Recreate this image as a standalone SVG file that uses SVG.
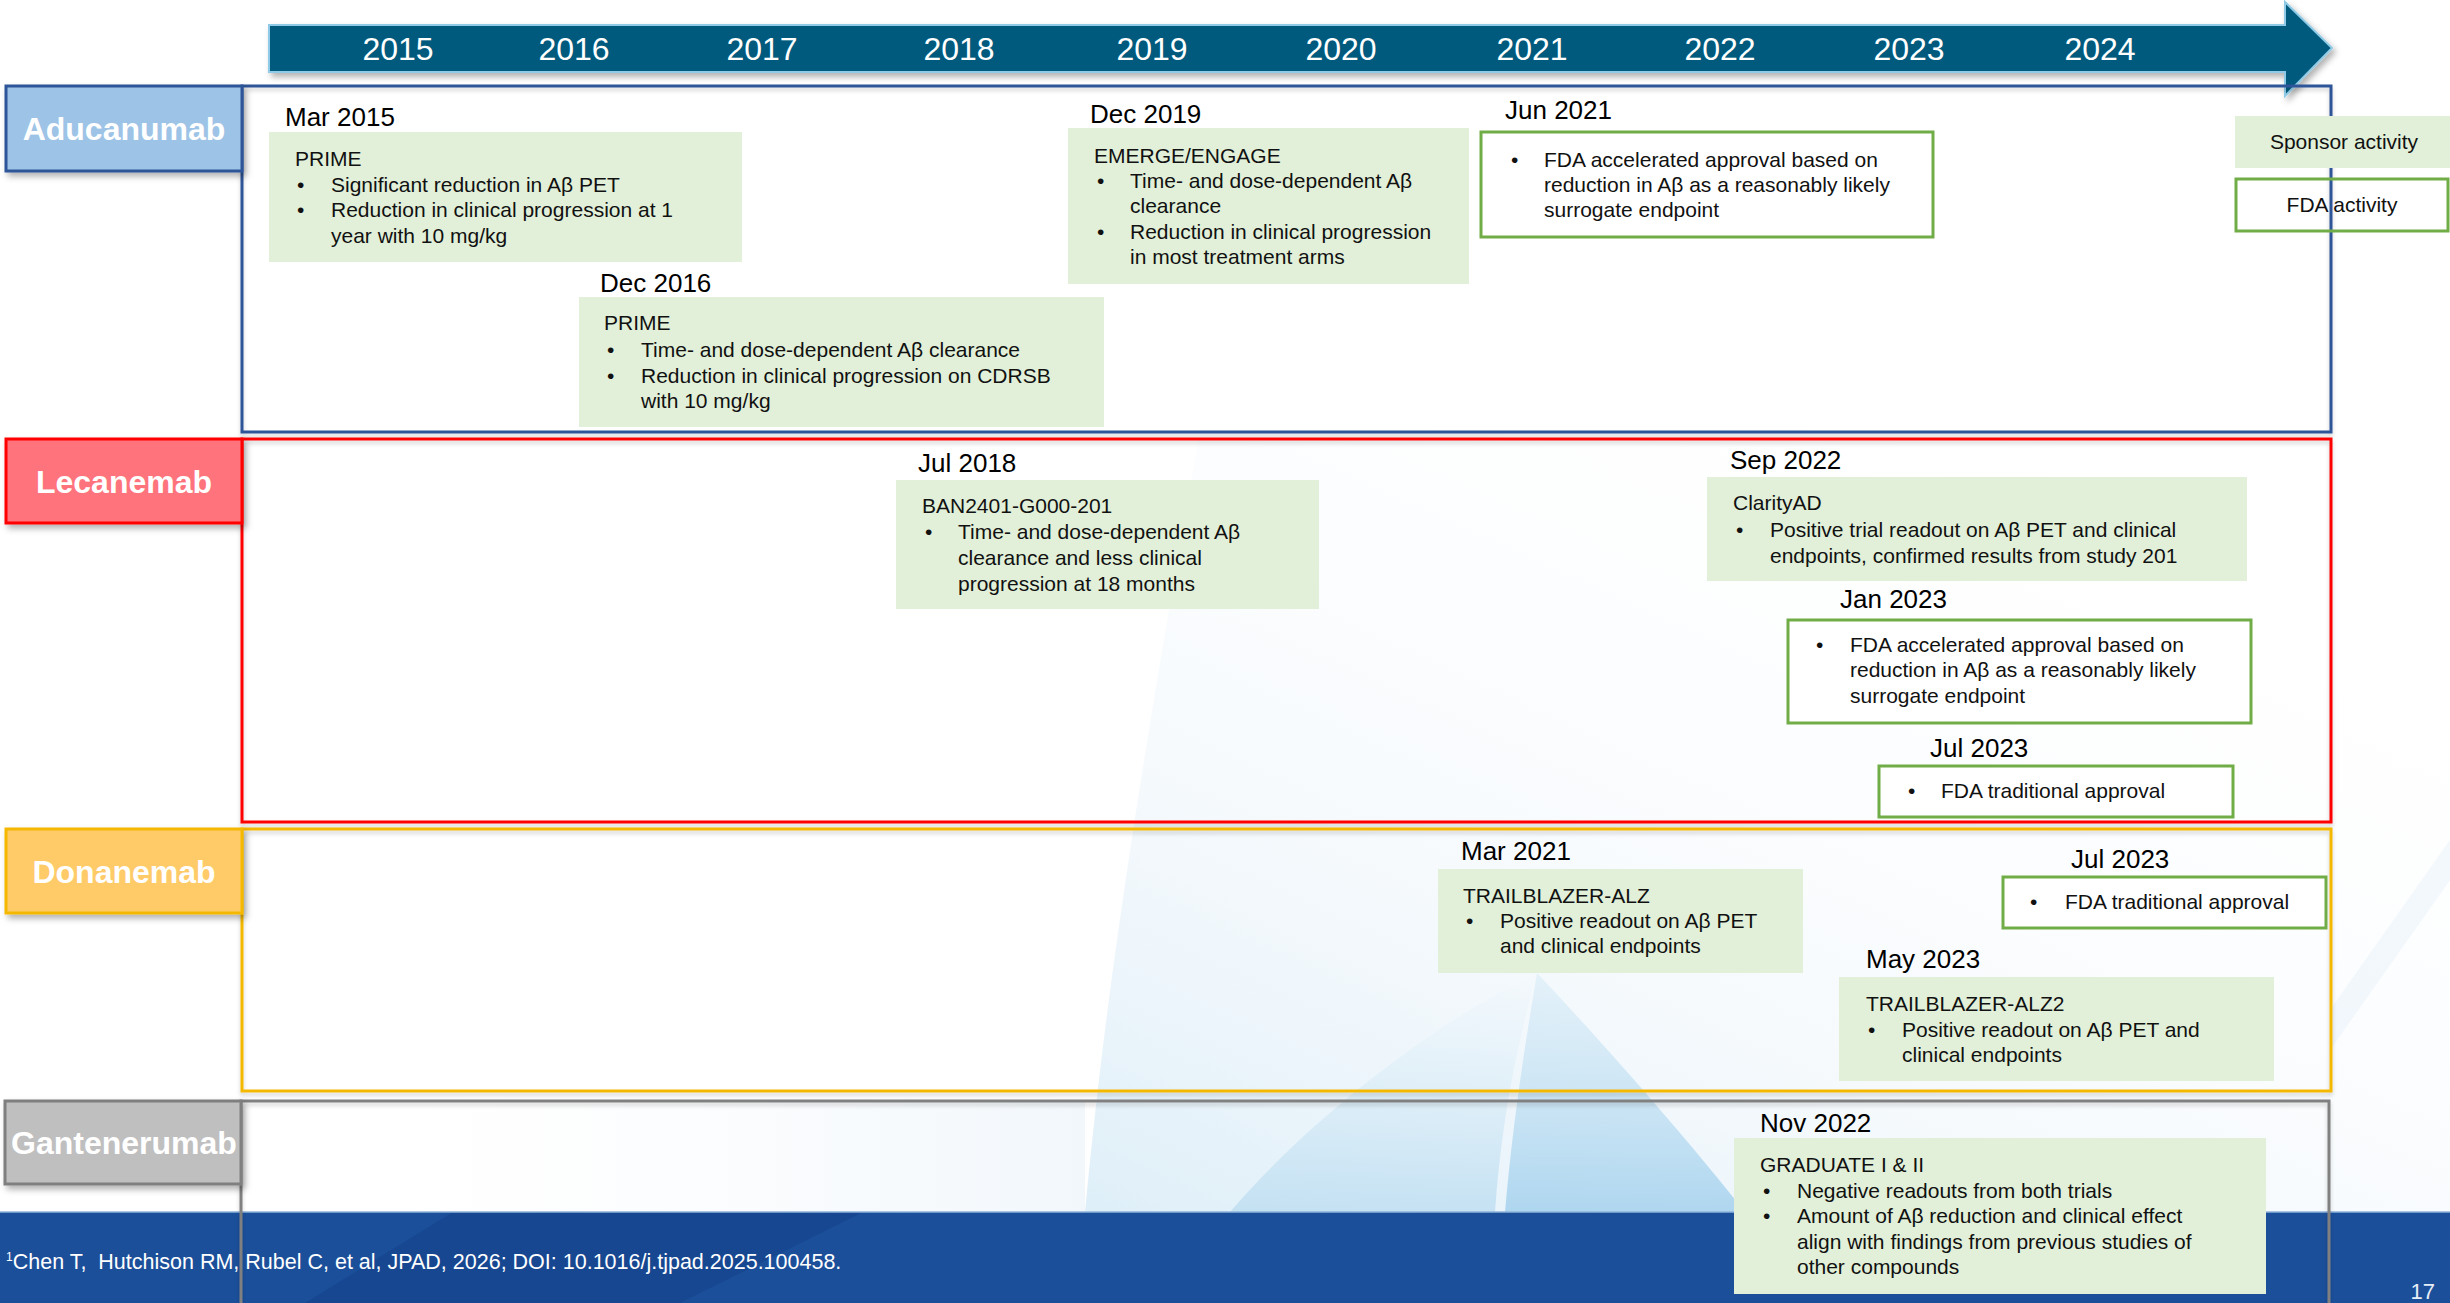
<svg xmlns="http://www.w3.org/2000/svg" width="2450" height="1303" viewBox="0 0 2450 1303">
<defs>
<style>
text{font-family:"Liberation Sans",Arial,sans-serif}
.yr{font-size:32px;fill:#fff;text-anchor:middle}
.lbl{font-size:32px;font-weight:bold;fill:#fff;text-anchor:middle}
.date{font-size:26px;fill:#000}
.t{font-size:21px;fill:#111}
.c{text-anchor:middle}
.g{fill:#E2F0D9}
.f{fill:#fff;stroke:#70AD47;stroke-width:3}
.pan{fill:none;stroke-width:3}
</style>
<filter id="sh" x="-10%" y="-20%" width="130%" height="160%">
<feDropShadow dx="3" dy="4" stdDeviation="3" flood-color="#000" flood-opacity="0.3"/>
</filter>
<filter id="sh2" x="-5%" y="-5%" width="110%" height="115%">
<feDropShadow dx="0" dy="3" stdDeviation="2" flood-color="#000" flood-opacity="0.18"/>
</filter>
<linearGradient id="bg1" x1="0" y1="1" x2="0.8" y2="0">
<stop offset="0" stop-color="#D3E9F6" stop-opacity="0.75"/>
<stop offset="0.4" stop-color="#EAF3FA" stop-opacity="0.4"/>
<stop offset="1" stop-color="#FFFFFF" stop-opacity="0"/>
</linearGradient>
<linearGradient id="bg2" x1="0" y1="0" x2="0" y2="1">
<stop offset="0" stop-color="#CBE5F4" stop-opacity="0.4"/>
<stop offset="1" stop-color="#A8D3EE" stop-opacity="0.9"/>
</linearGradient>
<linearGradient id="bg4" x1="0" y1="0" x2="0" y2="1">
<stop offset="0" stop-color="#D6EBF7" stop-opacity="0"/>
<stop offset="1" stop-color="#BCDDF1" stop-opacity="0.8"/>
</linearGradient>
<linearGradient id="bg3" x1="0" y1="0" x2="1" y2="0">
<stop offset="0" stop-color="#F4F8FC" stop-opacity="0"/>
<stop offset="1" stop-color="#E4EFF8" stop-opacity="0.5"/>
</linearGradient>
</defs>

<rect width="2450" height="1303" fill="#fff"/>
<g id="background">
<path d="M400,1212 L400,1100 L1085,1100 L1085,1212 Z" fill="url(#bg3)"/>
<path d="M1085,1212 C1105,1000 1135,800 1200,430 L2450,430 L2450,1212 Z" fill="url(#bg1)"/>
<path d="M1230,1212 C1300,1130 1420,1030 1537,973 C1512,1060 1500,1140 1495,1212 Z" fill="url(#bg4)"/>
<path d="M1537,973 C1524,1050 1512,1130 1505,1212 L1745,1212 C1680,1130 1600,1040 1537,973 Z" fill="url(#bg2)"/>
<path d="M2330,1010 L2450,840 L2450,880 L2330,1050 Z" fill="#E8F1F9" opacity="0.5"/>
</g>

<g id="footer">
<rect x="0" y="1212" width="2450" height="91" fill="#1B4F9A"/>
<path d="M453,1212 L863,1212 L680,1303 L305,1303 Z" fill="#123F85" opacity="0.45"/>
<line x1="0" y1="1212" x2="2450" y2="1212" stroke="#8EB3DA" stroke-width="1.5"/>
<text x="6" y="1269" xml:space="preserve" style="font-size:21.5px;fill:#fff;white-space:pre"><tspan style="font-size:12px" dy="-8">1</tspan><tspan dy="8">Chen T,  Hutchison RM, Rubel C, et al, JPAD, 2026; DOI: 10.1016/j.tjpad.2025.100458.</tspan></text>
<text x="2435" y="1299" style="font-size:22px;fill:#E6EEF7;text-anchor:end">17</text>
</g>

<g id="timeline">
<polygon points="269,25 2285,25 2285,2 2332,48 2285,96 2285,72 269,72" fill="#045A7D" stroke="#8FCBE6" stroke-width="2" filter="url(#sh)"/>
<text class="yr" x="398" y="60">2015</text>
<text class="yr" x="574" y="60">2016</text>
<text class="yr" x="762" y="60">2017</text>
<text class="yr" x="959" y="60">2018</text>
<text class="yr" x="1152" y="60">2019</text>
<text class="yr" x="1341" y="60">2020</text>
<text class="yr" x="1532" y="60">2021</text>
<text class="yr" x="1720" y="60">2022</text>
<text class="yr" x="1909" y="60">2023</text>
<text class="yr" x="2100" y="60">2024</text>
</g>

<g id="aducanumab">
<rect class="pan" x="242" y="86" width="2089" height="346" stroke="#2F5597" filter="url(#sh2)"/>
<rect x="6" y="86" width="236" height="85" fill="#9DC3E6" stroke="#2F5597" stroke-width="3" filter="url(#sh)"/>
<text class="lbl" x="124" y="140">Aducanumab</text>
</g>

<g id="lecanemab">
<rect class="pan" x="242" y="439" width="2089" height="383" stroke="#FF0000" filter="url(#sh2)"/>
<rect x="6" y="439" width="236" height="84" fill="#FF737C" stroke="#FF0000" stroke-width="3" filter="url(#sh)"/>
<text class="lbl" x="124" y="493">Lecanemab</text>
</g>

<g id="donanemab">
<rect class="pan" x="242" y="829" width="2089" height="262" stroke="#F4B800" filter="url(#sh2)"/>
<rect x="6" y="829" width="236" height="84" fill="#FFCB69" stroke="#F4B800" stroke-width="3" filter="url(#sh)"/>
<text class="lbl" x="124" y="883">Donanemab</text>
</g>

<g id="gantenerumab">
<path d="M241,1303 L241,1101 L2329,1101 L2329,1303" fill="none" stroke="#808080" stroke-width="3" filter="url(#sh2)"/>
<rect x="5" y="1101" width="236" height="83" fill="#BFBFBF" stroke="#7F7F7F" stroke-width="3" filter="url(#sh)"/>
<text class="lbl" x="124" y="1154">Gantenerumab</text>
</g>

<g id="legend">
<g id="legend-sponsor">
<rect x="2235" y="116" width="215" height="52" class="g"/>
<text class="t c" x="2344" y="149">Sponsor activity</text>
</g>
<g id="legend-fda">
<rect x="2236" y="179" width="212" height="52" fill="none" stroke="#70AD47" stroke-width="3"/>
<text class="t c" x="2342" y="212">FDA activity</text>
</g>
</g>

<g id="adu-mar2015">
<text class="date" x="285" y="126">Mar 2015</text>
<rect class="g" x="269" y="132" width="473" height="130"/>
<text class="t" x="295" y="166">PRIME</text>
<text class="t" x="297" y="192">•</text><text class="t" x="331" y="192">Significant reduction in Aβ PET</text>
<text class="t" x="297" y="217">•</text><text class="t" x="331" y="217">Reduction in clinical progression at 1</text>
<text class="t" x="331" y="243">year with 10 mg/kg</text>
</g>

<g id="adu-dec2016">
<text class="date" x="600" y="292">Dec 2016</text>
<rect class="g" x="579" y="297" width="525" height="130"/>
<text class="t" x="604" y="330">PRIME</text>
<text class="t" x="607" y="357">•</text><text class="t" x="641" y="357">Time- and dose-dependent Aβ clearance</text>
<text class="t" x="607" y="383">•</text><text class="t" x="641" y="383">Reduction in clinical progression on CDRSB</text>
<text class="t" x="641" y="408">with 10 mg/kg</text>
</g>

<g id="adu-dec2019">
<text class="date" x="1090" y="123">Dec 2019</text>
<rect class="g" x="1068" y="128" width="401" height="156"/>
<text class="t" x="1094" y="163">EMERGE/ENGAGE</text>
<text class="t" x="1097" y="188">•</text><text class="t" x="1130" y="188">Time- and dose-dependent Aβ</text>
<text class="t" x="1130" y="213">clearance</text>
<text class="t" x="1097" y="239">•</text><text class="t" x="1130" y="239">Reduction in clinical progression</text>
<text class="t" x="1130" y="264">in most treatment arms</text>
</g>

<g id="adu-jun2021">
<text class="date" x="1505" y="119">Jun 2021</text>
<rect class="f" x="1481" y="132" width="452" height="105"/>
<text class="t" x="1511" y="167">•</text><text class="t" x="1544" y="167">FDA accelerated approval based on</text>
<text class="t" x="1544" y="192">reduction in Aβ as a reasonably likely</text>
<text class="t" x="1544" y="217">surrogate endpoint</text>
</g>

<g id="lec-jul2018">
<text class="date" x="918" y="472">Jul 2018</text>
<rect class="g" x="896" y="480" width="423" height="129"/>
<text class="t" x="922" y="513">BAN2401-G000-201</text>
<text class="t" x="925" y="539">•</text><text class="t" x="958" y="539">Time- and dose-dependent Aβ</text>
<text class="t" x="958" y="565">clearance and less clinical</text>
<text class="t" x="958" y="591">progression at 18 months</text>
</g>

<g id="lec-sep2022">
<text class="date" x="1730" y="469">Sep 2022</text>
<rect class="g" x="1707" y="477" width="540" height="104"/>
<text class="t" x="1733" y="510">ClarityAD</text>
<text class="t" x="1736" y="537">•</text><text class="t" x="1770" y="537">Positive trial readout on Aβ PET and clinical</text>
<text class="t" x="1770" y="563">endpoints, confirmed results from study 201</text>
</g>

<g id="lec-jan2023">
<text class="date" x="1840" y="608">Jan 2023</text>
<rect class="f" x="1788" y="620" width="463" height="103"/>
<text class="t" x="1816" y="652">•</text><text class="t" x="1850" y="652">FDA accelerated approval based on</text>
<text class="t" x="1850" y="677">reduction in Aβ as a reasonably likely</text>
<text class="t" x="1850" y="703">surrogate endpoint</text>
</g>

<g id="lec-jul2023">
<text class="date" x="1930" y="757">Jul 2023</text>
<rect class="f" x="1879" y="766" width="354" height="51"/>
<text class="t" x="1908" y="798">•</text><text class="t" x="1941" y="798">FDA traditional approval</text>
</g>

<g id="don-mar2021">
<text class="date" x="1461" y="860">Mar 2021</text>
<rect class="g" x="1438" y="869" width="365" height="104"/>
<text class="t" x="1463" y="903">TRAILBLAZER-ALZ</text>
<text class="t" x="1466" y="928">•</text><text class="t" x="1500" y="928">Positive readout on Aβ PET</text>
<text class="t" x="1500" y="953">and clinical endpoints</text>
</g>

<g id="don-jul2023">
<text class="date" x="2071" y="868">Jul 2023</text>
<rect class="f" x="2003" y="877" width="323" height="51"/>
<text class="t" x="2030" y="909">•</text><text class="t" x="2065" y="909">FDA traditional approval</text>
</g>

<g id="don-may2023">
<text class="date" x="1866" y="968">May 2023</text>
<rect class="g" x="1839" y="977" width="435" height="104"/>
<text class="t" x="1866" y="1011">TRAILBLAZER-ALZ2</text>
<text class="t" x="1868" y="1037">•</text><text class="t" x="1902" y="1037">Positive readout on Aβ PET and</text>
<text class="t" x="1902" y="1062">clinical endpoints</text>
</g>

<g id="gan-nov2022">
<text class="date" x="1760" y="1132">Nov 2022</text>
<rect class="g" x="1734" y="1138" width="532" height="156"/>
<text class="t" x="1760" y="1172">GRADUATE I &amp; II</text>
<text class="t" x="1763" y="1198">•</text><text class="t" x="1797" y="1198">Negative readouts from both trials</text>
<text class="t" x="1763" y="1223">•</text><text class="t" x="1797" y="1223">Amount of Aβ reduction and clinical effect</text>
<text class="t" x="1797" y="1249">align with findings from previous studies of</text>
<text class="t" x="1797" y="1274">other compounds</text>
</g>
</svg>
